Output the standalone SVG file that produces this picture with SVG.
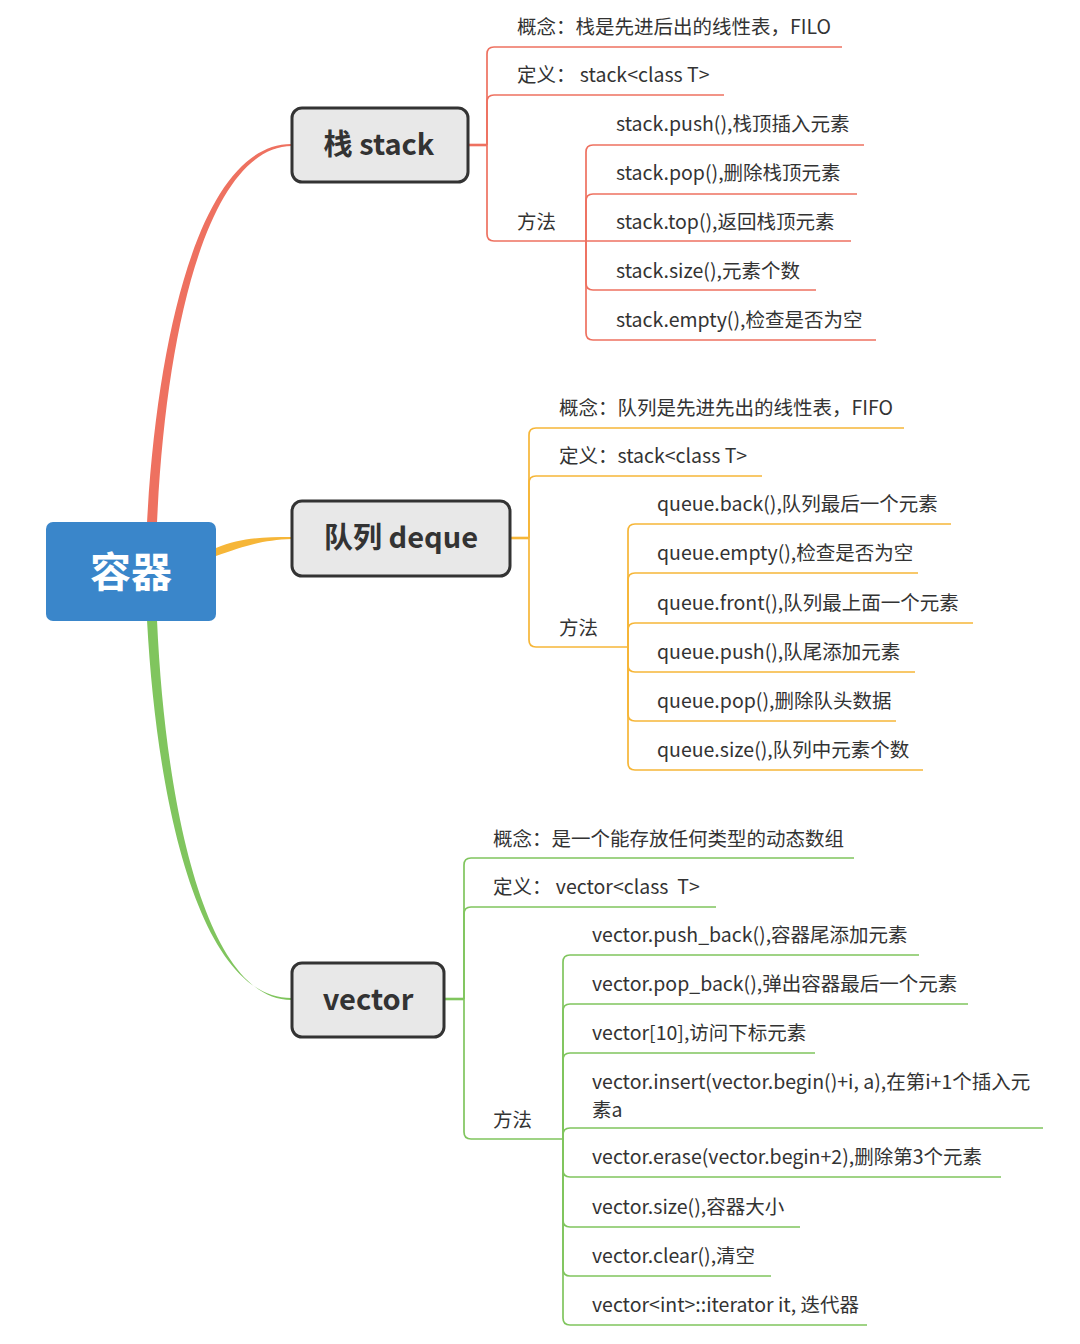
<svg xmlns="http://www.w3.org/2000/svg" width="1080" height="1344" viewBox="0 0 1080 1344">
<style>
.t{font-family:"Noto Sans CJK SC","Noto Sans",sans-serif;font-size:19.5px;fill:#333}
.nt{font-family:"Noto Sans CJK SC","Noto Sans",sans-serif;font-size:29px;font-weight:bold;fill:#333;text-anchor:middle}
.node{fill:#E8E8E8;stroke:#333;stroke-width:3}
.r{fill:none;stroke:#EE7160;stroke-width:1.7}
.o{fill:none;stroke:#F6B638;stroke-width:1.7}
.g{fill:none;stroke:#80C55E;stroke-width:1.7}
.thick{stroke-width:2.6}
</style>
<rect width="1080" height="1344" fill="#fff"/>
<g id="connectors">
<path d="M147,523 C158,320 205,143 292,144 L292,146 C210,147 166,322 157,523 Z" fill="#EE7160"/>
<path d="M216,548 C240,538 260,537 292,537 L292,539 C262,540 245,546 216,556 Z" fill="#F6B638"/>
<path d="M147,620 C158,823 205,999 292,998 L292,1000 C210,1001 166,821 157,620 Z" fill="#80C55E"/>
<!-- stack -->
<path class="r thick" d="M468,145 H487"/>
<path class="r" d="M487,145 V54 Q487,47 494,47 H842"/>
<path class="r" d="M487,145 V102 Q487,95 494,95 H724"/>
<path class="r" d="M487,145 V234 Q487,241 494,241 H586"/>
<path class="r" d="M586,241 V152 Q586,145 593,145 H864"/>
<path class="r" d="M586,241 V201 Q586,194 593,194 H857"/>
<path class="r" d="M586,241 H851"/>
<path class="r" d="M586,241 V283 Q586,290 593,290 H816"/>
<path class="r" d="M586,241 V333 Q586,340 593,340 H876"/>
<!-- deque -->
<path class="o thick" d="M510,538 H529"/>
<path class="o" d="M529,538 V435 Q529,428 536,428 H904"/>
<path class="o" d="M529,538 V483 Q529,476 536,476 H762"/>
<path class="o" d="M529,538 V640 Q529,647 536,647 H628"/>
<path class="o" d="M628,647 V531 Q628,524 635,524 H951"/>
<path class="o" d="M628,647 V580 Q628,573 635,573 H918"/>
<path class="o" d="M628,647 V630 Q628,623 635,623 H973"/>
<path class="o" d="M628,647 V665 Q628,672 635,672 H915"/>
<path class="o" d="M628,647 V714 Q628,721 635,721 H896"/>
<path class="o" d="M628,647 V763 Q628,770 635,770 H923"/>
<!-- vector -->
<path class="g thick" d="M444,999 H464"/>
<path class="g" d="M464,999 V865 Q464,858 471,858 H854"/>
<path class="g" d="M464,999 V914 Q464,907 471,907 H716"/>
<path class="g" d="M464,999 V1132 Q464,1139 471,1139 H563"/>
<path class="g" d="M563,1139 V962 Q563,955 570,955 H919"/>
<path class="g" d="M563,1139 V1011 Q563,1004 570,1004 H968"/>
<path class="g" d="M563,1139 V1060 Q563,1053 570,1053 H815"/>
<path class="g" d="M563,1139 V1135 Q563,1128 570,1128 H1043"/>
<path class="g" d="M563,1139 V1170 Q563,1177 570,1177 H1001"/>
<path class="g" d="M563,1139 V1220 Q563,1227 570,1227 H800"/>
<path class="g" d="M563,1139 V1269 Q563,1276 570,1276 H771"/>
<path class="g" d="M563,1139 V1318 Q563,1325 570,1325 H867"/>
</g>
<g id="root">
<rect x="46" y="522" width="170" height="99" rx="7" fill="#3A86CA"/>
<text x="131" y="587" font-family="Noto Sans CJK SC,sans-serif" font-size="41" font-weight="bold" fill="#fff" text-anchor="middle">容器</text>
</g>
<g id="stack">
<rect class="node" x="292" y="108" width="176" height="74" rx="10"/>
<text class="nt" x="379" y="155">栈 stack</text>
</g>
<g id="deque">
<rect class="node" x="292" y="501" width="218" height="75" rx="10"/>
<text class="nt" x="401" y="548">队列 deque</text>
</g>
<g id="vector">
<rect class="node" x="292" y="963" width="152" height="74" rx="10"/>
<text class="nt" x="368" y="1010">vector</text>
</g>
<g id="stack-items">
<text class="t" x="517" y="34">概念：栈是先进后出的线性表，FILO</text>
<text class="t" x="517" y="82">定义： stack&lt;class T&gt;</text>
<text class="t" x="517" y="229">方法</text>
<text class="t" x="616" y="131">stack.push(),栈顶插入元素</text>
<text class="t" x="616" y="180">stack.pop(),删除栈顶元素</text>
<text class="t" x="616" y="229">stack.top(),返回栈顶元素</text>
<text class="t" x="616" y="278">stack.size(),元素个数</text>
<text class="t" x="616" y="327">stack.empty(),检查是否为空</text>
</g>
<g id="deque-items">
<text class="t" x="559" y="415">概念：队列是先进先出的线性表，FIFO</text>
<text class="t" x="559" y="463">定义：stack&lt;class T&gt;</text>
<text class="t" x="559" y="635">方法</text>
<text class="t" x="657" y="511">queue.back(),队列最后一个元素</text>
<text class="t" x="657" y="560">queue.empty(),检查是否为空</text>
<text class="t" x="657" y="610">queue.front(),队列最上面一个元素</text>
<text class="t" x="657" y="659">queue.push(),队尾添加元素</text>
<text class="t" x="657" y="708">queue.pop(),删除队头数据</text>
<text class="t" x="657" y="757">queue.size(),队列中元素个数</text>
</g>
<g id="vector-items">
<text class="t" x="493" y="846">概念：是一个能存放任何类型的动态数组</text>
<text class="t" x="493" y="894">定义： vector&lt;class&#160; T&gt;</text>
<text class="t" x="493" y="1127">方法</text>
<text class="t" x="592" y="942">vector.push_back(),容器尾添加元素</text>
<text class="t" x="592" y="991">vector.pop_back(),弹出容器最后一个元素</text>
<text class="t" x="592" y="1040">vector[10],访问下标元素</text>
<text class="t" x="592" y="1089">vector.insert(vector.begin()+i, a),在第i+1个插入元</text>
<text class="t" x="592" y="1117">素a</text>
<text class="t" x="592" y="1164">vector.erase(vector.begin+2),删除第3个元素</text>
<text class="t" x="592" y="1214">vector.size(),容器大小</text>
<text class="t" x="592" y="1263">vector.clear(),清空</text>
<text class="t" x="592" y="1312">vector&lt;int&gt;::iterator it, 迭代器</text>
</g>
</svg>
